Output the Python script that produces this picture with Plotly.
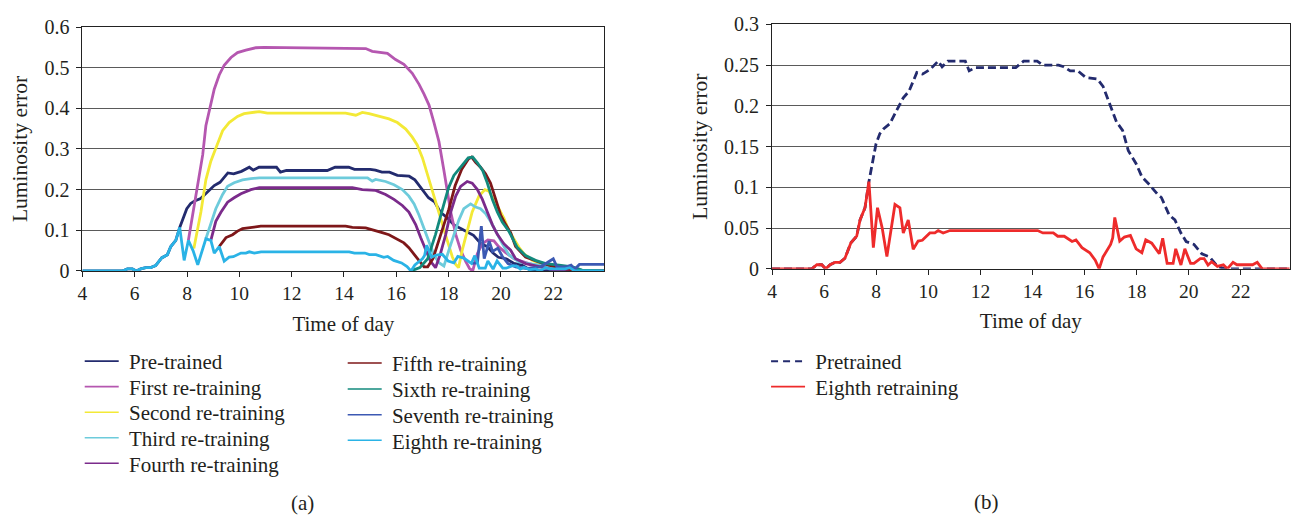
import plotly.graph_objects as go

# ---------------- data (hours, luminosity error) ----------------
HOUR_TICKS = [4, 6, 8, 10, 12, 14, 16, 18, 20, 22]

PRETRAINED = [(4.0, 0), (5.53, 0), (5.72, 0.005), (5.91, 0.005), (6.06, 0), (6.23, 0.005), (6.42, 0.008),
              (6.61, 0.008), (6.8, 0.013), (7.03, 0.032), (7.25, 0.04), (7.38, 0.06), (7.57, 0.075),
              (7.72, 0.107), (7.99, 0.153), (8.14, 0.166), (8.29, 0.172), (8.52, 0.178), (8.81, 0.196),
              (9.04, 0.21), (9.26, 0.218), (9.56, 0.241), (9.78, 0.239), (10.08, 0.245), (10.38, 0.255),
              (10.53, 0.248), (10.75, 0.255), (11.42, 0.255), (11.57, 0.243), (11.8, 0.247), (13.36, 0.247),
              (13.66, 0.255), (14.18, 0.255), (14.4, 0.25), (15.0, 0.25), (15.2, 0.248), (15.45, 0.243),
              (15.74, 0.243), (16.04, 0.235), (16.49, 0.233), (16.71, 0.224), (16.94, 0.204), (17.23, 0.18),
              (17.46, 0.17), (17.68, 0.145), (17.98, 0.129), (18.2, 0.113), (18.5, 0.103), (18.8, 0.0915),
              (18.95, 0.0875), (19.25, 0.066), (19.47, 0.06), (19.7, 0.044), (19.9, 0.0335), (20.2, 0.03),
              (20.5, 0.0185), (20.8, 0.0146), (21.1, 0.003), (21.4, 0), (23.95, 0)]

FIRST = [(8.05, 0.075), (8.41, 0.208), (8.6, 0.286), (8.72, 0.357), (8.85, 0.396), (9.04, 0.447), (9.23, 0.482),
         (9.42, 0.506), (9.68, 0.525), (9.93, 0.537), (10.25, 0.543), (10.63, 0.549), (10.95, 0.55),
         (14.25, 0.549), (14.83, 0.547), (15.08, 0.54), (15.66, 0.535), (15.97, 0.52), (16.29, 0.508),
         (16.61, 0.486), (16.87, 0.459), (17.06, 0.435), (17.25, 0.408), (17.44, 0.365), (17.63, 0.318),
         (17.82, 0.247), (17.95, 0.192), (18.08, 0.145), (18.27, 0.09), (18.46, 0.051), (18.65, 0.0235),
         (18.8, 0.006), (18.92, 0.0), (19.1, 0.043), (19.29, 0.067), (19.5, 0.076), (19.73, 0.074),
         (19.92, 0.059), (20.18, 0.045), (20.5, 0.03), (21.07, 0.018), (21.58, 0.01), (22.09, 0.006),
         (22.6, 0.0), (23.95, 0)]

SECOND = [(8.26, 0.055), (8.53, 0.145), (8.72, 0.224), (8.91, 0.27), (9.1, 0.302), (9.36, 0.345), (9.61, 0.365),
          (9.93, 0.38), (10.18, 0.387), (10.44, 0.39), (10.76, 0.392), (11.07, 0.388), (14.06, 0.388),
          (14.45, 0.383), (14.7, 0.39), (14.96, 0.387), (15.34, 0.38), (15.72, 0.374), (16.04, 0.365),
          (16.36, 0.349), (16.61, 0.329), (16.8, 0.31), (17.0, 0.278), (17.18, 0.239), (17.38, 0.192),
          (17.57, 0.153), (17.76, 0.114), (17.95, 0.0745), (18.14, 0.035), (18.27, 0.016), (18.38, 0.008),
          (18.52, 0.051), (18.71, 0.098), (18.9, 0.145), (19.16, 0.184), (19.39, 0.2), (19.54, 0.196),
          (19.73, 0.176), (19.92, 0.153), (20.11, 0.13), (20.3, 0.1), (20.5, 0.078), (20.69, 0.058),
          (20.88, 0.042), (21.2, 0.026), (21.58, 0.016), (21.96, 0.01), (22.47, 0.004), (22.85, 0.002),
          (23.95, 0)]

THIRD = [(8.72, 0.079), (8.91, 0.114), (9.1, 0.153), (9.36, 0.188), (9.55, 0.208), (9.8, 0.217), (10.12, 0.224),
         (10.44, 0.227), (10.76, 0.229), (14.9, 0.229), (14.96, 0.226), (15.08, 0.221), (15.21, 0.225),
         (15.59, 0.22), (15.91, 0.212), (16.23, 0.2), (16.48, 0.184), (16.68, 0.165), (16.87, 0.137),
         (17.06, 0.106), (17.25, 0.07), (17.44, 0.039), (17.63, 0.02), (17.82, 0.012), (18.01, 0.051),
         (18.2, 0.09), (18.39, 0.125), (18.58, 0.153), (18.84, 0.165), (19.03, 0.157), (19.22, 0.153),
         (19.41, 0.141), (19.6, 0.122), (19.8, 0.098), (20.05, 0.067), (20.31, 0.039), (20.69, 0.022),
         (21.07, 0.018), (21.58, 0.014), (22.09, 0.01), (22.5, 0.005), (22.9, 0.0), (23.95, 0)]

FOURTH = [(8.91, 0.075), (9.1, 0.122), (9.3, 0.145), (9.55, 0.169), (9.8, 0.18), (10.06, 0.19), (10.44, 0.2),
          (10.76, 0.205), (14.32, 0.205), (14.7, 0.2), (15.21, 0.198), (15.59, 0.188), (15.91, 0.176),
          (16.23, 0.161), (16.48, 0.145), (16.74, 0.114), (16.93, 0.082), (17.12, 0.051), (17.31, 0.0235),
          (17.5, 0.008), (17.69, 0.043), (17.89, 0.09), (18.08, 0.145), (18.27, 0.184), (18.46, 0.208),
          (18.71, 0.22), (18.9, 0.216), (19.1, 0.2), (19.29, 0.176), (19.48, 0.145), (19.67, 0.114),
          (19.86, 0.09), (20.11, 0.067), (20.37, 0.051), (20.56, 0.03), (20.94, 0.018), (21.45, 0.01),
          (21.9, 0.004), (22.2, 0), (23.95, 0)]

FIFTH = [(9.23, 0.06), (9.49, 0.082), (9.74, 0.089), (9.93, 0.098), (10.12, 0.104), (10.44, 0.107), (10.82, 0.11),
         (14.06, 0.11), (14.32, 0.107), (14.83, 0.106), (15.08, 0.102), (15.46, 0.094), (15.72, 0.089),
         (16.04, 0.078), (16.29, 0.069), (16.48, 0.057), (16.74, 0.035), (16.93, 0.02), (17.06, 0.01),
         (17.2, 0.01), (17.4, 0.03), (17.7, 0.09), (18.0, 0.15), (18.25, 0.21), (18.5, 0.25), (18.75, 0.275),
         (18.88, 0.28), (19.03, 0.267), (19.22, 0.255), (19.41, 0.239), (19.6, 0.216), (19.8, 0.176),
         (19.99, 0.137), (20.18, 0.114), (20.37, 0.094), (20.56, 0.06), (20.94, 0.034), (21.45, 0.022),
         (21.83, 0.014), (22.34, 0.006), (22.85, 0.002), (23.1, 0), (23.95, 0)]

SIXTH = [(16.56, 0), (16.9, 0.008), (17.2, 0.03), (17.5, 0.09), (17.8, 0.16), (18.0, 0.205), (18.2, 0.235),
         (18.5, 0.258), (18.75, 0.278), (18.92, 0.28), (19.1, 0.266), (19.3, 0.247), (19.48, 0.216),
         (19.67, 0.176), (19.86, 0.145), (20.05, 0.12), (20.3, 0.098), (20.62, 0.058), (20.94, 0.038),
         (21.32, 0.026), (21.71, 0.018), (22.22, 0.014), (22.73, 0.01), (23.1, 0.002), (23.95, 0)]

SEVENTH = [(18.87, 0.0185), (19.1, 0.02), (19.25, 0.11), (19.36, 0.03), (19.55, 0.073), (19.68, 0.048),
           (19.88, 0.056), (20.05, 0.036), (20.27, 0.018), (20.56, 0.01), (21.0, 0.006), (21.5, 0.01),
           (21.76, 0.02), (22.0, 0.03), (22.14, 0.01), (22.5, 0.01), (22.68, 0.014), (22.82, 0.004),
           (23.0, 0.016), (23.95, 0.016)]

EIGHTH = [(4.0, 0), (5.53, 0), (5.72, 0.005), (5.91, 0.005), (6.06, 0), (6.23, 0.005), (6.42, 0.008),
          (6.61, 0.008), (6.8, 0.013), (7.03, 0.032), (7.25, 0.04), (7.38, 0.06), (7.57, 0.075), (7.72, 0.107),
          (7.89, 0.026), (8.05, 0.075), (8.23, 0.05), (8.41, 0.015), (8.72, 0.079), (8.91, 0.075), (9.04, 0.044),
          (9.23, 0.06), (9.42, 0.024), (9.61, 0.034), (9.77, 0.035), (10.06, 0.044), (10.25, 0.044),
          (10.38, 0.047), (10.57, 0.044), (10.83, 0.047), (14.2, 0.047), (14.4, 0.044), (14.8, 0.044),
          (14.97, 0.04), (15.22, 0.04), (15.52, 0.0335), (15.67, 0.0355), (15.9, 0.026), (16.2, 0.0197),
          (16.41, 0.0106), (16.56, 0), (16.71, 0.0146), (17.0, 0.03), (17.08, 0.038), (17.16, 0.063),
          (17.35, 0.034), (17.53, 0.039), (17.76, 0.041), (17.98, 0.0245), (18.2, 0.0197), (18.35, 0.0355),
          (18.58, 0.0315), (18.87, 0.0185), (19.0, 0.0375), (19.17, 0.0067), (19.4, 0.0067), (19.5, 0.0245),
          (19.7, 0.0047), (19.85, 0.0245), (20.07, 0.0067), (20.2, 0.0067), (20.44, 0.0126), (20.59, 0.0126),
          (20.74, 0.0047), (20.88, 0.0087), (21.1, 0.003), (21.33, 0.005), (21.48, 0), (21.7, 0.008),
          (21.85, 0.005), (22.45, 0.005), (22.63, 0.008), (22.82, 0), (23.95, 0)]

# name, data, colour
LEFT_SERIES = [
    ("Pre-trained", PRETRAINED, "#232B6E"),
    ("First re-training", FIRST, "#B557B0"),
    ("Second re-training", SECOND, "#F3E936"),
    ("Third re-training", THIRD, "#6DCBDB"),
    ("Fourth re-training", FOURTH, "#7B2B8B"),
    ("Fifth re-training", FIFTH, "#7E1719"),
    ("Sixth re-training", SIXTH, "#128A7D"),
    ("Seventh re-training", SEVENTH, "#3C59B3"),
    ("Eighth re-training", EIGHTH, "#2AB3E6"),
]
RIGHT_SERIES = [
    ("Pretrained", PRETRAINED, "#232B6E", "8px,4px"),
    ("Eighth retraining", EIGHTH, "#EE2B2B", "solid"),
]

FONT = "Liberation Serif"
TXT = "#231F20"
W, H = 1298, 529
NB = "\u00a0"
LW = 2.8        # data line width
LEG_LW = 1.6    # legend key line width

# legend row anchors (pixel positions of the legend key start / row centre)
LEGEND_ROWS = [(75, 365.7), (75, 392.3), (75, 419.0), (75, 445.7), (75, 472.3),
               (339, 367.7), (339, 394.7), (339, 421.7), (339, 448.3)]
RIGHT_LEGEND_ROWS = [(764, 365.7), (764, 392.3)]

def legname(i):
    return "legend" if i == 0 else "legend%d" % (i + 1)

fig = go.Figure()
# data lines
for name, pts, col in LEFT_SERIES:
    fig.add_trace(go.Scatter(x=[p[0] for p in pts], y=[p[1] for p in pts], mode="lines", name=name,
                             line=dict(color=col, width=LW), showlegend=False, xaxis="x", yaxis="y"))
for name, pts, col, dash in RIGHT_SERIES:
    fig.add_trace(go.Scatter(x=[p[0] for p in pts], y=[p[1] for p in pts], mode="lines", name=name,
                             line=dict(color=col, width=LW, dash=dash), showlegend=False,
                             xaxis="x2", yaxis="y2"))
# legend keys (thin lines, as in the original)
for i, (name, pts, col) in enumerate(LEFT_SERIES):
    fig.add_trace(go.Scatter(x=[None], y=[None], mode="lines", name=NB + name,
                             line=dict(color=col, width=LEG_LW), legend=legname(i), xaxis="x", yaxis="y",
                             hoverinfo="skip"))
for j, (name, pts, col, dash) in enumerate(RIGHT_SERIES):
    fig.add_trace(go.Scatter(x=[None], y=[None], mode="lines", name=NB + name,
                             line=dict(color=col, width=LEG_LW if dash == "solid" else 2.0,
                                       dash="7px,5px" if dash != "solid" else "solid"),
                             legend=legname(len(LEFT_SERIES) + j), xaxis="x2", yaxis="y2",
                             hoverinfo="skip"))

def xax(domain, rng):
    return dict(domain=domain, range=rng, tickmode="array", tickvals=HOUR_TICKS,
                ticks="outside", ticklen=5, tickcolor="#222", showline=True, linecolor="#222",
                linewidth=1, mirror=True, showgrid=False, zeroline=False,
                tickfont=dict(family=FONT, size=19.5, color=TXT),
                title=dict(text="Time of day", font=dict(family=FONT, size=21, color=TXT), standoff=12))

def yax(domain, rng, dt):
    return dict(domain=domain, range=rng, dtick=dt, tick0=0, ticks="outside", ticklen=5, tickcolor="#222",
                showline=True, linecolor="#222", linewidth=1, mirror=True, showgrid=True,
                gridcolor="#5a5a5a", gridwidth=1, zeroline=False, ticklabelstandoff=3,
                tickfont=dict(family=FONT, size=20, color=TXT),
                title=dict(text="Luminosity error", font=dict(family=FONT, size=21.5, color=TXT), standoff=10))

def leg(xpx, ypx):
    return dict(x=xpx / W, y=1 - ypx / H, xanchor="left", yanchor="middle", xref="paper", yref="paper",
                bgcolor="rgba(0,0,0,0)", borderwidth=0, itemwidth=34, tracegroupgap=0,
                font=dict(family=FONT, size=21, color=TXT))

legends = {}
for i, (lx, ly) in enumerate(LEGEND_ROWS + RIGHT_LEGEND_ROWS):
    legends[legname(i)] = leg(lx, ly)

fig.update_layout(
    width=W, height=H, margin=dict(l=0, r=0, t=0, b=0), autosize=False,
    paper_bgcolor="white", plot_bgcolor="white", showlegend=True,
    xaxis=xax([77.7 / W, 601.6 / W], [4, 23.95]),
    yaxis=yax([(H - 271.2) / H, (H - 16.7) / H], [0, 0.6], 0.1),
    xaxis2=dict(xax([770 / W, 1289.5 / W], [4, 23.87]), anchor="y2"),
    yaxis2=dict(yax([(H - 269) / H, (H - 14) / H], [0, 0.3], 0.05), anchor="x2"),
    annotations=[
        dict(text="(a)", x=298.3 / W, y=1 - 513.3 / H, xref="paper", yref="paper", showarrow=False,
             xanchor="center", yanchor="middle", font=dict(family=FONT, size=21, color=TXT)),
        dict(text="(b)", x=985.7 / W, y=1 - 512.7 / H, xref="paper", yref="paper", showarrow=False,
             xanchor="center", yanchor="middle", font=dict(family=FONT, size=21, color=TXT)),
    ],
    **legends,
)

fig.write_html("out.html")
